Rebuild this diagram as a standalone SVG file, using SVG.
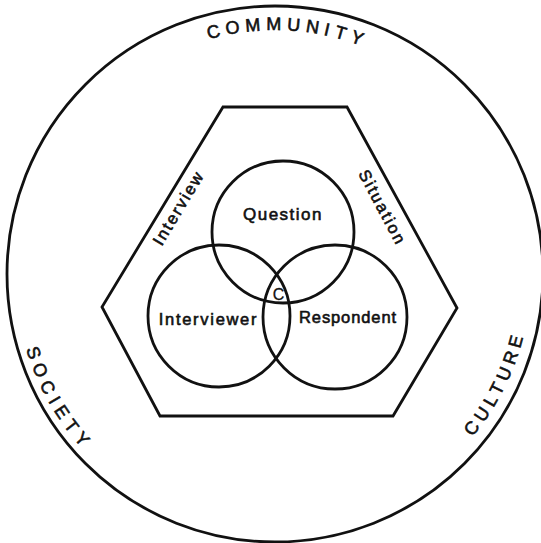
<svg xmlns="http://www.w3.org/2000/svg" width="541" height="543" viewBox="0 0 541 543">
<style>
.ln{fill:none;stroke:#111;stroke-width:2.8}
.t{font-family:"Liberation Sans",Arial,sans-serif;fill:#111;stroke:#111;stroke-width:0.6}
.ring{font-size:18px}
</style>
<defs>
<path id="topArc" d="M 31 274 A 244 244 0 0 1 519 274"/>
<path id="socArc" d="M 15 274 A 260 260 0 0 0 535 274"/>
<path id="culArc" d="M 19 274 A 256 256 0 0 0 531 274"/>
</defs>
<rect width="541" height="543" fill="#fff"/>
<g id="community">
<circle class="ln" cx="275" cy="274" r="268"/>
<text class="t ring" letter-spacing="5.5"><textPath href="#topArc" startOffset="396" text-anchor="middle">COMMUNITY</textPath></text>
</g>
<g id="society">
<text class="t ring" letter-spacing="5.8"><textPath href="#socArc" startOffset="136" text-anchor="middle">SOCIETY</textPath></text>
</g>
<g id="culture">
<text class="t ring" letter-spacing="4.8"><textPath href="#culArc" startOffset="686" text-anchor="middle">CULTURE</textPath></text>
</g>
<g id="interview-situation">
<polygon class="ln" points="223,107 347,107 457,308 393,416 160,416 102,307"/>
<text class="t" font-size="16.5" letter-spacing="2" text-anchor="middle" transform="translate(178.5,209) rotate(-59)" x="1" y="5">Interview</text>
<text class="t" font-size="16.5" letter-spacing="2.1" text-anchor="middle" transform="translate(381.5,207) rotate(62)" x="1" y="5">Situation</text>
</g>
<g id="question">
<circle class="ln" cx="283" cy="232" r="71"/>
<text class="t" font-size="17" letter-spacing="1.5" text-anchor="middle" x="283" y="220">Question</text>
</g>
<g id="interviewer">
<circle class="ln" cx="219" cy="316" r="71"/>
<text class="t" font-size="16.5" letter-spacing="1.7" text-anchor="middle" x="208.5" y="325">Interviewer</text>
</g>
<g id="respondent">
<circle class="ln" cx="335" cy="317" r="72"/>
<text class="t" font-size="16.5" letter-spacing="0.9" text-anchor="middle" x="348" y="323">Respondent</text>
</g>
<g id="center-c">
<text class="t" font-size="16" text-anchor="middle" x="278.5" y="300" style="stroke-width:0.3">C</text>
</g>
<g id="connectors"/>
</svg>
